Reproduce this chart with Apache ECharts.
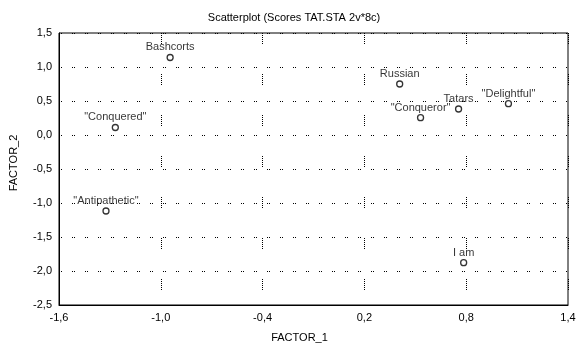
<!DOCTYPE html>
<html>
<head>
<meta charset="utf-8">
<script src="https://cdn.jsdelivr.net/npm/echarts@6/dist/echarts.min.js"></script>
<style>html,body{margin:0;padding:0;background:#fff}#c{width:588px;height:349px}</style>
</head>
<body>
<div id="c"></div>
<script>
const names = ['Bashcorts', '"Conquered"', 'Russian', '"Conqueror"', 'Tatars', '"Delightful"', '"Antipathetic"', 'I am'];
const factor1 = [-0.945, -1.268, 0.408, 0.531, 0.755, 1.049, -1.323, 0.785];
const factor2 = [1.14, 0.11, 0.75, 0.255, 0.382, 0.46, -1.118, -1.878];
const xTicks = [-1.6, -1.0, -0.4, 0.2, 0.8, 1.4];
const yTicks = [-2.5, -2.0, -1.5, -1.0, -0.5, 0.0, 0.5, 1.0, 1.5];

const fmt = v => (Math.round(v * 10) / 10).toFixed(1).replace('.', ',');
const font = 'Arial, "Liberation Sans", sans-serif';
const chart = echarts.init(document.getElementById('c'), null, {renderer: 'canvas'});
chart.setOption({
  animation: false,
  backgroundColor: '#fff',
  title: {
    text: 'Scatterplot (Scores TAT.STA 2v*8c)',
    left: 'center', top: 7,
    textStyle: {fontSize: 11, fontWeight: 'normal', color: '#000', fontFamily: font}
  },
  grid: {left: 57, right: 20, top: 33, bottom: 44, show: true, borderColor: '#000', borderWidth: 1, backgroundColor: 'transparent'},
  xAxis: {
    type: 'value',
    min: xTicks[0], max: xTicks[xTicks.length - 1],
    interval: 0.6,
    name: 'FACTOR_1', nameLocation: 'middle', nameGap: 27,
    nameTextStyle: {fontSize: 11, color: '#000', fontFamily: font, padding: [0, 28, 0, 0]},
    axisLine: {show: true, onZero: false, lineStyle: {color: '#000', width: 1}},
    axisTick: {show: false},
    axisLabel: {formatter: fmt, fontSize: 11, color: '#000', fontFamily: font, margin: 7},
    splitLine: {show: true, lineStyle: {color: '#000', width: 1, type: [1,1,1,1,1,1,1,1,1,1,1,30]}}
  },
  yAxis: {
    type: 'value',
    min: yTicks[0], max: yTicks[yTicks.length - 1],
    interval: 0.5,
    name: 'FACTOR_2', nameLocation: 'middle', nameGap: 40, nameRotate: 90,
    nameTextStyle: {fontSize: 11, color: '#000', fontFamily: font, padding: [0, 0, 0, 12]},
    axisLine: {show: true, onZero: false, lineStyle: {color: '#000', width: 1}},
    axisTick: {show: false},
    axisLabel: {formatter: fmt, fontSize: 11, color: '#000', fontFamily: font, margin: 7},
    splitLine: {show: true, lineStyle: {color: '#000', width: 1, type: [1,1,1,10]}}
  },
  series: [{
    type: 'scatter',
    symbol: 'circle',
    symbolSize: 6,
    itemStyle: {color: '#fff', borderColor: '#000', borderWidth: 1.3},
    data: names.map((n, i) => ({name: n, value: [factor1[i], factor2[i]]})),
    label: {
      show: true, position: 'top', distance: 1,
      formatter: p => p.name,
      fontSize: 11, color: '#000', fontFamily: font
    },
    emphasis: {disabled: true},
    z: 5
  }]
});
</script>
</body>
</html>
